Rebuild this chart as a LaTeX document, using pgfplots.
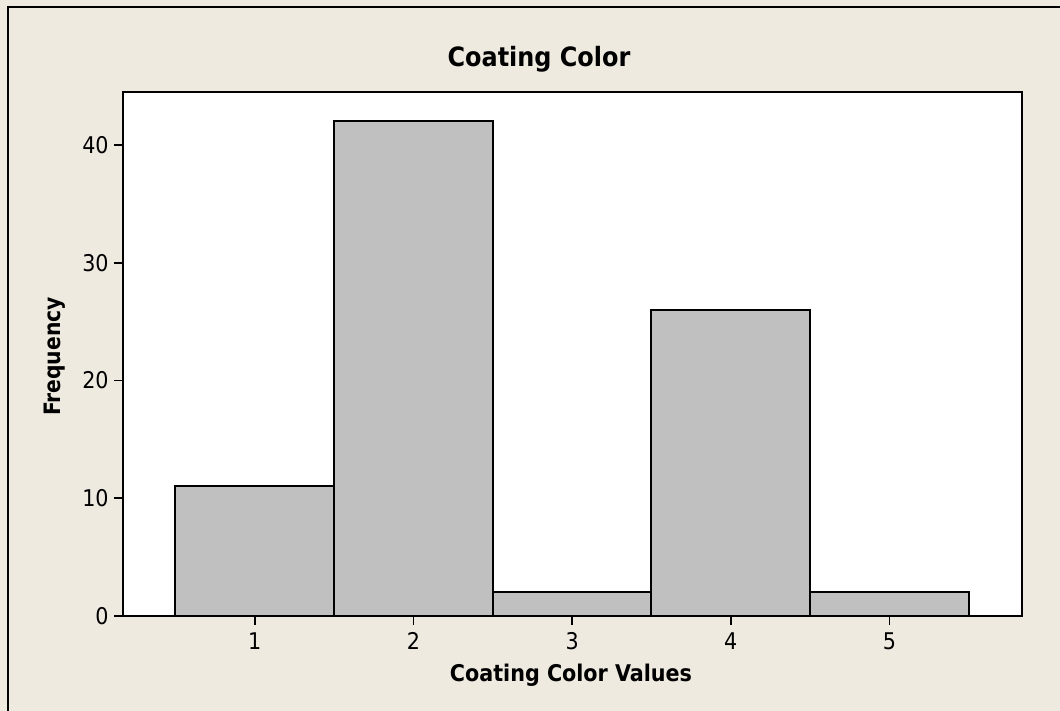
\documentclass[border=0pt]{standalone}
\usepackage{fontspec}
\setmainfont{DejaVu Sans Condensed}
\usepackage{pgfplots}
\pgfplotsset{compat=1.18}
\definecolor{bgc}{RGB}{238,234,224}
\definecolor{barc}{RGB}{192,192,192}
\begin{document}
\begin{tikzpicture}
\useasboundingbox (0,0) rectangle (530pt,355.5pt);
\fill[bgc] (0,0) rectangle (530pt,355.5pt);
\draw[line width=1pt] (4pt,0) -- (4pt,352pt) -- (530pt,352pt);
\begin{axis}[
  at={(61.5pt,47.5pt)}, anchor=south west,
  scale only axis, width=449.5pt, height=262pt,
  xmin=0.17, xmax=5.835, ymin=0, ymax=44.5,
  axis background/.style={fill=white},
  axis line style={line width=0.9pt},
  xtick={1,2,3,4,5}, ytick={0,10,20,30,40},
  tick align=outside, tick pos=left, major tick length=4.5pt,
  tick style={black, line width=0.8pt},
  ticklabel style={font=\fontsize{11.5}{13}\selectfont},
  /pgf/number format/assume math mode=true,
  xticklabel style={inner sep=1pt, yshift=-2.5pt},
  yticklabel style={inner sep=1pt, xshift=-1.5pt},
]
\addplot[ybar interval, fill=barc, draw=black, line width=1pt]
  coordinates {(0.5,11) (1.5,42) (2.5,2) (3.5,26) (4.5,2) (5.5,2)};
\end{axis}
\node[anchor=base, font=\bfseries\fontsize{13.3}{15}\selectfont] at (269.5pt,322pt) {Coating Color};
\node[anchor=base, font=\bfseries\fontsize{11.5}{13}\selectfont] at (285.5pt,14.5pt) {Coating Color Values};
\node[rotate=90, font=\bfseries\fontsize{11.3}{13}\selectfont] at (27.5pt,177.25pt) {Frequency};
\end{tikzpicture}
\end{document}
